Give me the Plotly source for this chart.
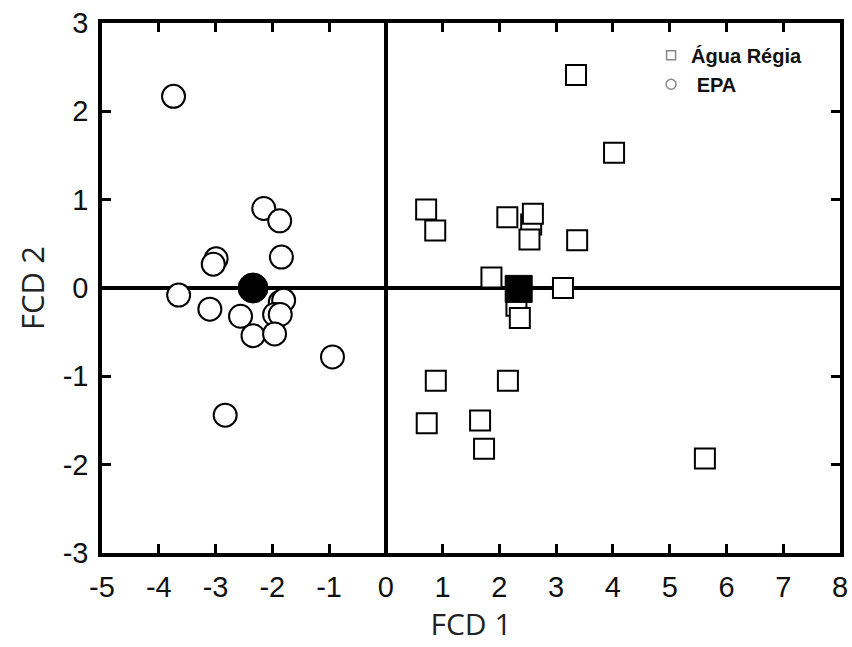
import plotly.graph_objects as go

# EPA samples (open circles)
epa_x = [-3.74, -2.15, -1.87, -1.84, -2.99, -3.04, -3.65, -1.86, -1.80, -3.10,
         -2.56, -1.96, -1.86, -2.34, -1.96, -0.94, -2.83]
epa_y = [2.17, 0.90, 0.76, 0.35, 0.33, 0.27, -0.08, -0.16, -0.14, -0.24,
         -0.32, -0.30, -0.30, -0.54, -0.52, -0.78, -1.44]
epa_centroid_x = [-2.34]
epa_centroid_y = [0.00]

# Água Régia samples (open squares)
ar_x = [3.35, 4.02, 0.71, 0.87, 2.14, 2.56, 2.59, 2.53, 3.37, 1.86,
        3.12, 2.30, 2.36, 0.88, 2.15, 0.72, 1.66, 1.73, 5.62]
ar_y = [2.41, 1.53, 0.89, 0.65, 0.80, 0.72, 0.84, 0.55, 0.54, 0.12,
        0.00, -0.20, -0.34, -1.05, -1.05, -1.53, -1.50, -1.82, -1.93]
ar_centroid_x = [2.34]
ar_centroid_y = [-0.01]

legend_names = ["Água Régia", " EPA"]
x_ticks = list(range(-5, 9))
y_ticks = list(range(-3, 4))

fig = go.Figure()

fig.add_trace(go.Scatter(
    x=epa_x, y=epa_y, mode="markers", showlegend=False,
    marker=dict(symbol="circle", size=23, color="white",
                line=dict(color="black", width=2))))
fig.add_trace(go.Scatter(
    x=ar_x, y=ar_y, mode="markers", showlegend=False,
    marker=dict(symbol="square", size=20, color="white",
                line=dict(color="black", width=2))))
fig.add_trace(go.Scatter(
    x=epa_centroid_x, y=epa_centroid_y, mode="markers", showlegend=False,
    marker=dict(symbol="circle", size=30, color="black",
                line=dict(color="black", width=1))))
fig.add_trace(go.Scatter(
    x=ar_centroid_x, y=ar_centroid_y, mode="markers", showlegend=False,
    marker=dict(symbol="square", size=27, color="black",
                line=dict(color="black", width=1))))

# legend-only entries
fig.add_trace(go.Scatter(
    x=[None], y=[None], mode="markers", name=legend_names[0],
    marker=dict(symbol="square-open", size=9, color="#888888",
                line=dict(width=1.5))))
fig.add_trace(go.Scatter(
    x=[None], y=[None], mode="markers", name=legend_names[1],
    marker=dict(symbol="circle-open", size=10, color="#888888",
                line=dict(width=1.5))))

axis_common = dict(
    showgrid=False, showline=True, linecolor="black", linewidth=3.5,
    mirror="ticks", ticks="inside", ticklen=9, tickwidth=3, tickcolor="black",
    zeroline=True, zerolinecolor="black", zerolinewidth=3.5,
    automargin=False,
    tickfont=dict(family="Liberation Sans, Arial", size=29, color="#111111"),
)

fig.update_xaxes(
    range=[-5, 8], tickvals=x_ticks, ticktext=[str(v) for v in x_ticks],
    title=dict(text="FCD 1", font=dict(family="Open Sans", size=30, color="#222222"),
               standoff=4),
    ticklabelstandoff=5,
    **axis_common)
fig.update_yaxes(
    range=[-3, 3], tickvals=y_ticks, ticktext=[str(v) for v in y_ticks],
    title=dict(text="FCD 2", font=dict(family="Open Sans", size=31, color="#222222"),
               standoff=10),
    ticklabelstandoff=4,
    **axis_common)

fig.update_layout(
    width=852, height=647,
    margin=dict(l=102, r=12, t=23, b=94),
    paper_bgcolor="white", plot_bgcolor="white",
    showlegend=True,
    legend=dict(x=0.744, y=0.976, xanchor="left", yanchor="top",
                bgcolor="rgba(0,0,0,0)", tracegroupgap=0,
                font=dict(family="Liberation Sans, Arial", size=20, color="#111111",
                          weight="bold"),
                itemwidth=30),
)

fig.write_html("out.html")
